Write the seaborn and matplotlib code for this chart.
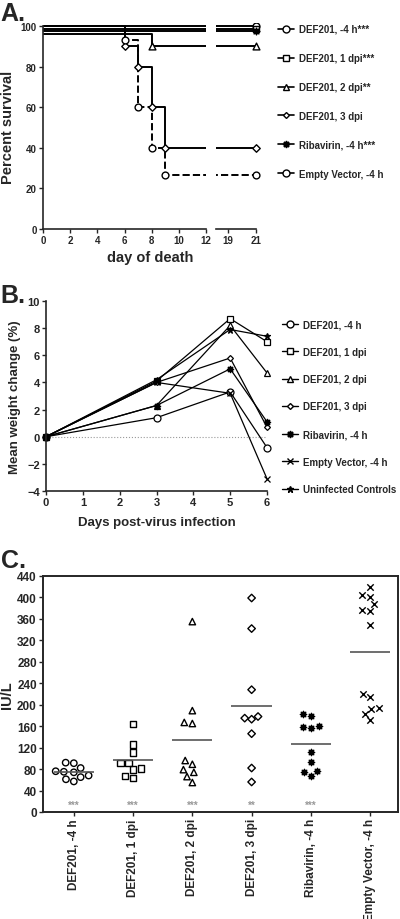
import numpy as np
import pandas as pd
import matplotlib
matplotlib.use("Agg")
from matplotlib import pyplot as plt
from matplotlib.lines import Line2D
import seaborn as sns

# ---- panel A: survival (plotted values, small offsets where curves overlap at 100%)
surv_labels = ["DEF201, -4 h***", "DEF201, 1 dpi***", "DEF201, 2 dpi**",
               "DEF201, 3 dpi", "Ribavirin, -4 h***", "Empty Vector, -4 h"]
surv_days = [[0, 21], [0, 21], [0, 8, 21], [0, 6, 7, 8, 9, 21], [0, 21], [0, 6, 7, 8, 9, 21]]
surv_pct = [[100, 100], [98.7, 98.7], [96, 90, 90], [100, 90, 80, 60, 40, 40],
            [97.4, 97.4], [100, 93.3, 60, 40, 26.7, 26.7]]
surv_markers = ["o", "s", "^", "D", (8, 1, 0), "o"]
surv_styles = ["-", "-", "-", "-", "-", "--"]

# ---- panel B: mean weight change
wt_labels = ["DEF201, -4 h", "DEF201, 1 dpi", "DEF201, 2 dpi", "DEF201, 3 dpi",
             "Ribavirin, -4 h", "Empty Vector, -4 h", "Uninfected Controls"]
wt_days = [0, 3, 5, 6]
wt_change = [[0, 1.4, 3.3, -0.8],
             [0, 4.1, 8.7, 7.0],
             [0, 2.3, 8.2, 4.7],
             [0, 4.0, 5.8, 0.7],
             [0, 2.3, 5.0, 1.1],
             [0, 4.0, 3.2, -3.1],
             [0, 4.2, 7.9, 7.4]]
wt_markers = ["o", "s", "^", "D", (8, 1, 0), "x", "*"]

# ---- panel C: IU/L per animal
iu_groups = ["DEF201, -4 h", "DEF201, 1 dpi", "DEF201, 2 dpi", "DEF201, 3 dpi",
             "Ribavirin, -4 h", "Empty Vector, -4 h"]
iu_values = [[92, 91, 82, 75, 74, 76, 65, 57, 61, 68],
             [164, 126, 111, 91, 79, 81, 91, 63, 67],
             [355, 189, 167, 165, 96, 89, 79, 74, 66, 55],
             [399, 342, 228, 178, 175, 173, 146, 82, 56],
             [183, 179, 159, 157, 161, 111, 93, 77, 74, 67],
             [419, 405, 401, 387, 374, 377, 349, 214, 220, 194, 192, 183, 172]]
iu_signif = ["***", "***", "***", "**", "***", ""]
iu_markers = ["o", "s", "^", "D", (8, 1, 0), "x"]

FILLED = ["x", (8, 1, 0), "*"]

sns.set_style("ticks")
plt.rcParams["font.family"] = ["Liberation Sans", "DejaVu Sans"]
plt.rcParams["font.weight"] = "bold"
plt.rcParams["axes.linewidth"] = 1.2

W, H = 400, 920
fig = plt.figure(figsize=(4, 9.2), dpi=100)


def px_axes(x0, y0, x1, y1):
    # rectangle given in pixel coords (top-left origin)
    return fig.add_axes([x0 / W, 1 - y1 / H, (x1 - x0) / W, (y1 - y0) / H])


def style_ticks(ax, size):
    ax.tick_params(axis="both", labelsize=size, length=3, width=1, pad=1.5)
    for t in ax.get_xticklabels() + ax.get_yticklabels():
        t.set_fontweight("bold")


def msize(m, base):
    # diamonds drawn a bit smaller, like the original
    return base * 0.6 if m == "D" else base


# ================= A =================
ax_a1 = px_axes(43, 24, 206, 230)
ax_a2 = px_axes(216, 24, 262, 230)
for ax in (ax_a1, ax_a2):
    for lab, d, p, m, ls in zip(surv_labels, surv_days, surv_pct, surv_markers, surv_styles):
        sns.lineplot(x=d, y=p, drawstyle="steps-post", estimator=None, ax=ax,
                     color="black", lw=1.4, linestyle=ls, legend=False)
        ax.scatter(d[1:], p[1:], marker=m, s=msize(m, 24),
                   facecolor="black" if m in FILLED else "white",
                   edgecolor="black", linewidth=1, zorder=3)
    ax.set_ylim(0, 101.5)
    ax.set_xlabel("")
    ax.set_ylabel("")
ax_a1.set_xlim(0, 12)
ax_a1.set_xticks(range(0, 13, 2))
ax_a1.set_yticks(range(0, 101, 20))
ax_a1.spines["left"].set_bounds(0, 100)
sns.despine(ax=ax_a1)
ax_a2.set_xlim(18.15, 21.4)
ax_a2.set_xticks([19, 21])
ax_a2.spines["bottom"].set_bounds(18.15, 21)
ax_a2.set_yticks([])
sns.despine(ax=ax_a2, left=True)
style_ticks(ax_a1, 7)
style_ticks(ax_a2, 7)
ax_a1.set_ylabel("Percent survival", fontsize=10.5, fontweight="bold", labelpad=4)
fig.text(150 / W, 1 - 258 / H, "day of death", fontsize=10.5, fontweight="bold",
         ha="center", va="center")
handles_a = [Line2D([], [], color="black", lw=1.2, marker=m, ms=msize(m, 5),
                    mfc="black" if m in FILLED else "white", mec="black")
             for m in surv_markers]
fig.legend(handles_a, surv_labels, loc="upper left", bbox_to_anchor=(278 / W, 1 - 25 / H),
           frameon=False, fontsize=7, handlelength=1.6, handletextpad=0.6,
           labelspacing=1.95, borderpad=0, borderaxespad=0)

# ================= B =================
ax_b = px_axes(46, 302, 267, 492)
ax_b.axhline(0, color="#999999", lw=0.8, ls=":", zorder=0)
for lab, vals, m in zip(wt_labels, wt_change, wt_markers):
    sns.lineplot(x=wt_days, y=vals, ax=ax_b, color="black", lw=0.9, marker=m,
                 ms=msize(m, 5), mfc="black" if m in FILLED else "white", mec="black",
                 mew=0.9, estimator=None, legend=False, clip_on=False)
ax_b.set_xlim(0, 6)
ax_b.set_ylim(-4, 10)
ax_b.set_xticks(range(0, 7))
ax_b.set_yticks(range(-4, 11, 2))
sns.despine(ax=ax_b)
style_ticks(ax_b, 8)
ax_b.set_xlabel("Days post-virus infection", fontsize=9.5, fontweight="bold", labelpad=6)
ax_b.set_ylabel("Mean weight change (%)", fontsize=9.5, fontweight="bold", labelpad=4)
handles_b = [Line2D([], [], color="black", lw=1, marker=m, ms=msize(m, 5),
                    mfc="black" if m in FILLED else "white", mec="black")
             for m in wt_markers]
fig.legend(handles_b, wt_labels, loc="upper left", bbox_to_anchor=(282 / W, 1 - 320 / H),
           frameon=False, fontsize=7, handlelength=1.6, handletextpad=0.6,
           labelspacing=1.8, borderpad=0, borderaxespad=0)

# ================= C =================
ax_c = px_axes(43, 577, 398, 813)
rows = []
for g, vals in zip(iu_groups, iu_values):
    for v in vals:
        rows.append({"group": g, "value": v})
df = pd.DataFrame(rows)
for g, m in zip(iu_groups, iu_markers):
    n0 = len(ax_c.collections)
    sns.swarmplot(data=df[df["group"] == g], x="group", y="value", order=iu_groups,
                  marker=m, color="black", size=msize(m, 4.6) if m != "D" else 3.8,
                  linewidth=1, ax=ax_c)
    for coll in ax_c.collections[n0:]:
        if m not in FILLED:
            coll.set_facecolor("none")
        coll.set_edgecolor("black")
        coll.set_linewidth(1)
for i, g in enumerate(iu_groups):
    mean = df.loc[df["group"] == g, "value"].mean()
    ax_c.hlines(mean, i - 0.34, i + 0.34, color="#555555", lw=1.2, zorder=4)
    if iu_signif[i]:
        ax_c.text(i, 13, iu_signif[i], color="#999999", fontsize=7, fontweight="bold",
                  ha="center", va="center")
ax_c.set_xlim(-0.52, 5.47)
ax_c.set_ylim(0, 440)
ax_c.set_yticks(range(0, 441, 40))
ax_c.tick_params(top=False, right=False)
for s in ax_c.spines.values():
    s.set_linewidth(1.4)
style_ticks(ax_c, 8.5)
ax_c.set_xticks(range(len(iu_groups)))
ax_c.set_xticklabels(iu_groups, rotation=90, fontsize=8.5, fontweight="bold")
ax_c.set_xlabel("")
ax_c.set_ylabel("IU/L", fontsize=10.5, fontweight="bold", labelpad=2)

# panel letters
for lab, y in [("A.", 2), ("B.", 284), ("C.", 549)]:
    fig.text(0.5 / W, 1 - y / H, lab, fontsize=18, fontweight="bold", ha="left", va="top")

fig.savefig("out.png", dpi=100)
